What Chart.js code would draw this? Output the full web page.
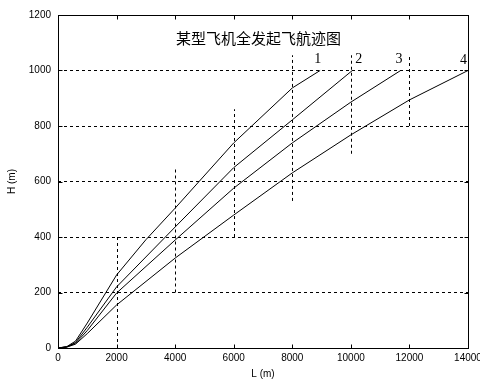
<!DOCTYPE html>
<html>
<head>
<meta charset="utf-8">
<script src="https://cdn.jsdelivr.net/npm/chart.js@4"></script>
<style>
  html, body { margin: 0; padding: 0; background: #fff; }
  #wrap { width: 480px; height: 380px; position: relative; }
</style>
</head>
<body>
<div id="wrap"><canvas id="trackChart"></canvas></div>
<script>
// flight path data (L in m, H in m)
const L1 = [0, 300, 600, 1000, 2000, 3000, 4000, 6000, 8000, 8950];
const H1 = [0, 5, 25, 90, 263, 390, 504, 739, 937, 1000];
const L2 = [0, 300, 600, 1000, 2000, 4000, 6000, 8000, 10050];
const H2 = [0, 4, 20, 75, 220, 436, 650, 822, 1000];
const L3 = [0, 300, 600, 1000, 2000, 4000, 6000, 8000, 10000, 11700];
const H3 = [0, 4, 17, 63, 198, 389, 576, 739, 886, 1000];
const L4 = [0, 300, 600, 1000, 2000, 4000, 6000, 8000, 10000, 12000, 14000];
const H4 = [0, 3, 14, 52, 155, 324, 479, 631, 768, 894, 1000];

// curve number labels
const curveNames = ['1', '2', '3', '4'];
const nameL = [8870, 10270, 11640, 13850];
const nameH = [1042, 1042, 1042, 1038];

// axis ticks
const xTicks = [0, 2000, 4000, 6000, 8000, 10000, 12000, 14000];
const yTicks = [0, 200, 400, 600, 800, 1000, 1200];

// vertical grid pieces (only partly drawn in the original)
const gridL = [2000, 4000, 6000, 8000, 10000, 12000];
const gridLo = [0, 200, 400, 530, 700, 800];
const gridHi = [400, 650, 860, 1055, 1055, 1055];

const chartTitle = '某型飞机全发起飞航迹图';

function toPoints(xs, ys) {
  return xs.map((x, i) => ({ x: x, y: ys[i] }));
}

function crisp(v) {
  return Math.round(v) + 0.5;
}

const framePlugin = {
  id: 'frame',
  beforeDatasetsDraw(chart) {
    const ctx = chart.ctx;
    const xs = chart.scales.x, ys = chart.scales.y;
    ctx.save();
    ctx.strokeStyle = '#000';
    ctx.lineWidth = 1;
    ctx.setLineDash([3, 3]);
    gridL.forEach((l, i) => {
      const px = crisp(xs.getPixelForValue(l));
      ctx.beginPath();
      ctx.moveTo(px, ys.getPixelForValue(gridLo[i]));
      ctx.lineTo(px, ys.getPixelForValue(gridHi[i]));
      ctx.stroke();
    });
    ctx.restore();
  },
  afterDatasetsDraw(chart) {
    const ctx = chart.ctx;
    const a = chart.chartArea;
    const xs = chart.scales.x, ys = chart.scales.y;
    const l = crisp(a.left), r = crisp(a.right), t = crisp(a.top), b = crisp(a.bottom);
    ctx.save();
    ctx.strokeStyle = '#000';
    ctx.lineWidth = 1;
    ctx.setLineDash([]);
    ctx.strokeRect(l, t, r - l, b - t);
    // inward tick marks on all four sides
    ctx.beginPath();
    xTicks.forEach(v => {
      const px = crisp(xs.getPixelForValue(v));
      ctx.moveTo(px, b); ctx.lineTo(px, b - 4);
      ctx.moveTo(px, t); ctx.lineTo(px, t + 4);
    });
    yTicks.forEach(v => {
      const py = crisp(ys.getPixelForValue(v));
      ctx.moveTo(l, py); ctx.lineTo(l + 4, py);
      ctx.moveTo(r, py); ctx.lineTo(r - 4, py);
    });
    ctx.stroke();

    // title inside the plot
    ctx.fillStyle = '#000';
    ctx.textAlign = 'center';
    ctx.textBaseline = 'middle';
    ctx.font = '15px "Noto Sans CJK SC"';
    ctx.fillText(chartTitle, xs.getPixelForValue(6850), ys.getPixelForValue(1115));

    // curve numbers
    ctx.font = '14px "Liberation Serif"';
    curveNames.forEach((n, i) => {
      ctx.fillText(n, xs.getPixelForValue(nameL[i]), ys.getPixelForValue(nameH[i]));
    });
    ctx.restore();
  }
};

const lineStyle = {
  borderColor: '#000',
  backgroundColor: '#000',
  borderWidth: 1,
  pointRadius: 0,
  fill: false,
  tension: 0
};

const tickFont = { family: '"Liberation Sans"', size: 10 };

new Chart(document.getElementById('trackChart').getContext('2d'), {
  type: 'line',
  data: {
    datasets: [
      Object.assign({ label: '1', data: toPoints(L1, H1) }, lineStyle),
      Object.assign({ label: '2', data: toPoints(L2, H2) }, lineStyle),
      Object.assign({ label: '3', data: toPoints(L3, H3) }, lineStyle),
      Object.assign({ label: '4', data: toPoints(L4, H4) }, lineStyle)
    ]
  },
  options: {
    responsive: true,
    maintainAspectRatio: false,
    animation: false,
    layout: { padding: { left: 0, right: 12, top: 15, bottom: 0 } },
    plugins: {
      legend: { display: false },
      tooltip: { enabled: false }
    },
    scales: {
      x: {
        type: 'linear',
        min: 0,
        max: 14000,
        grid: { display: false, drawTicks: false },
        border: { display: false },
        ticks: {
          stepSize: 2000,
          padding: 4,
          maxRotation: 0,
          color: '#000',
          font: tickFont,
          callback: v => String(v)
        },
        title: {
          display: true,
          text: 'L (m)',
          color: '#000',
          font: tickFont,
          padding: { top: 0, bottom: 0 }
        },
        afterFit(scale) {
          scale.height = 32;
          scale.paddingLeft = 0;
          scale.paddingRight = 0;
        }
      },
      y: {
        min: 0,
        max: 1200,
        grid: { color: '#000', lineWidth: 1, drawTicks: false },
        border: { display: false, dash: [3, 3] },
        ticks: {
          stepSize: 200,
          padding: 7,
          color: '#000',
          font: tickFont,
          callback: v => String(v)
        },
        title: {
          display: true,
          text: 'H (m)',
          color: '#000',
          font: tickFont,
          padding: { top: 6, bottom: 0 }
        },
        afterFit(scale) {
          scale.width = 58;
          scale.paddingTop = 0;
          scale.paddingBottom = 0;
        }
      }
    }
  },
  plugins: [framePlugin]
});
</script>
</body>
</html>
